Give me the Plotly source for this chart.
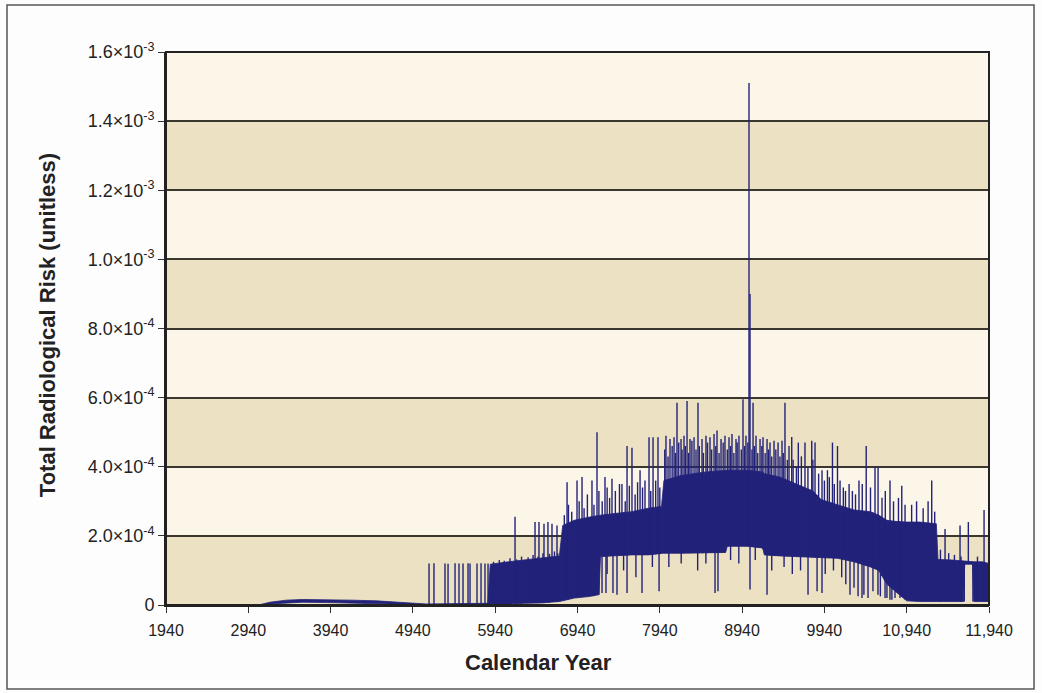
import numpy as np
import plotly.graph_objects as go

# ---- data (risk values in units of 1e-4) ----
SCALE = 1e-4

# dense band of the yearly risk trace: lower / upper envelope
env_year = [1940, 3080, 3200, 3400, 3600, 3900, 4200, 4500, 4800, 5000, 5100, 5850,
            5880, 6100, 6300, 6500, 6720, 6760, 6900, 7100, 7200, 7220, 7400, 7600,
            7800, 7960, 7990, 8200, 8500, 8740, 8760, 9000, 9190, 9210, 9400, 9600,
            9800, 9900, 10100, 10300, 10500, 10600, 10700, 10800, 10940, 11100, 11300,
            11320, 11500, 11630, 11645, 11740, 11755, 11860, 11940]
env_low = [0, 0, 0.03, 0.06, 0.08, 0.07, 0.06, 0.04, 0.02, 0.01, 0.01, 0.02,
           0.02, 0.03, 0.05, 0.06, 0.10, 0.12, 0.20, 0.25, 0.30, 1.40, 1.42, 1.45,
           1.45, 1.48, 1.50, 1.50, 1.50, 1.52, 1.70, 1.70, 1.65, 1.45, 1.42, 1.40,
           1.38, 1.37, 1.35, 1.25, 1.10, 1.00, 0.60, 0.40, 0.12, 0.10, 0.10,
           0.10, 0.10, 0.10, 1.18, 1.18, 0.10, 0.10, 0.10]
env_high = [0, 0.01, 0.08, 0.14, 0.16, 0.16, 0.14, 0.12, 0.08, 0.04, 0.03, 0.05,
            1.18, 1.25, 1.30, 1.35, 1.42, 2.30, 2.45, 2.55, 2.60, 2.60, 2.65, 2.70,
            2.80, 2.85, 3.60, 3.75, 3.85, 3.90, 3.90, 3.90, 3.85, 3.80, 3.70, 3.50,
            3.30, 3.05, 2.90, 2.75, 2.70, 2.60, 2.45, 2.42, 2.40, 2.40, 2.35,
            1.32, 1.30, 1.27, 1.27, 1.25, 1.25, 1.25, 1.20]

# tall isolated peaks rising above the band
peak_year = [5136, 5196, 5330, 5367, 5452, 5500, 5549, 5610, 5634, 5719, 5768, 5816, 5853,
             6181, 6424, 6472, 6533, 6581, 6630, 6691, 6813, 6934, 6995, 7116, 7177,
             7274, 7359, 7450, 7542, 7602, 7700, 7809, 7858, 7918,
             8015, 8064, 8113, 8149, 8198, 8234, 8271, 8307, 8356, 8404, 8453, 8501,
             8550, 8599, 8635, 8684, 8732, 8781, 8817, 8866, 8902, 8951, 8987, 9024,
             9036, 9073, 9109, 9158, 9194, 9243, 9279, 9328, 9377, 9425, 9461, 9510,
             9543, 9623, 9704, 9786, 9826, 9911, 9977, 10038, 10099, 10196, 10318,
             10448, 10555, 10592, 10737, 10880, 11244, 11406, 11588, 11689, 11880]
peak_value = [1.20, 1.21, 1.20, 1.19, 1.21, 1.20, 1.20, 1.21, 1.20, 1.20, 1.21, 1.20, 1.20,
              2.55, 2.40, 2.40, 2.35, 2.40, 2.35, 2.30, 3.55, 3.60, 3.70, 3.60, 5.00,
              3.70, 3.65, 3.50, 4.60, 4.55, 3.90, 4.85, 4.85, 4.85,
              4.90, 4.80, 4.85, 5.85, 4.80, 4.90, 5.90, 4.80, 4.85, 5.85, 4.80, 4.90,
              4.85, 4.95, 5.05, 4.80, 4.90, 4.85, 4.95, 4.80, 4.90, 5.95, 4.90, 15.10,
              9.00, 5.85, 4.90, 4.80, 4.85, 4.80, 4.70, 4.75, 4.70, 4.75, 5.85, 4.60,
              4.86, 4.70, 4.70, 4.75, 4.70, 3.90, 3.90, 4.70, 4.60, 3.30, 3.20,
              4.60, 4.00, 4.00, 3.60, 3.45, 3.60, 2.20, 2.30, 2.40, 2.75]

# shorter peaks that make up the ragged top of the band
short_peak_year = [5920, 5990, 6050, 6120, 6200, 6260, 6340, 6400, 6460, 6520, 6600, 6660, 6700,
                   6780, 6830, 6870, 6960, 7020, 7060, 7140, 7200, 7240, 7300, 7330, 7400,
                   7480, 7520, 7570, 7640, 7670, 7730, 7760, 7830, 7890, 7940,
                   8000, 8040, 8090, 8130, 8170, 8210, 8250, 8290, 8330, 8380, 8420, 8470,
                   8520, 8570, 8620, 8660, 8710, 8760, 8800, 8840, 8880, 8930, 8970, 9010,
                   9060, 9090, 9130, 9180, 9220, 9260, 9300, 9350, 9400, 9440, 9490,
                   9560, 9600, 9660, 9740, 9800, 9870, 9940, 10000, 10060, 10130, 10170,
                   10240, 10280, 10360, 10400, 10500, 10640, 10680, 10780, 10840, 10920,
                   11000, 11060, 11140, 11200, 11280, 11350, 11450, 11520, 11600, 11800]
short_peak_value = [1.25, 1.30, 1.28, 1.35, 1.32, 1.40, 1.38, 1.45, 1.40, 1.50, 1.48, 1.55, 1.50,
                    2.60, 2.90, 2.70, 3.00, 2.80, 3.20, 2.90, 3.30, 3.00, 3.40, 3.10, 3.30,
                    3.50, 3.00, 3.45, 3.20, 3.55, 3.40, 3.60, 3.30, 3.60, 3.40,
                    4.50, 4.30, 4.60, 4.40, 4.70, 4.50, 4.60, 4.40, 4.75, 4.50, 4.60, 4.40,
                    4.70, 4.50, 4.60, 4.40, 4.70, 4.50, 4.60, 4.40, 4.70, 4.50, 4.60, 4.70,
                    4.50, 4.60, 4.40, 4.60, 4.40, 4.50, 4.30, 4.50, 4.30, 4.40, 4.20,
                    4.20, 4.00, 4.30, 4.00, 4.20, 3.80, 3.60, 3.70, 3.50, 3.60, 3.40,
                    3.50, 3.30, 3.60, 3.50, 3.40, 3.10, 3.30, 3.00, 3.10, 2.90,
                    2.90, 3.00, 2.80, 3.00, 2.70, 1.60, 1.50, 1.45, 1.40, 1.40]

# drops falling below the band
dip_year = [7238, 7286, 7371, 7420, 7542, 7724, 7931, 8611, 8647, 9036, 9243, 9741,
            9851, 9911, 10251, 10349, 10397, 10470, 10591, 10677, 10737, 10798, 10859,
            10920, 11640, 11745,
            7300, 7500, 7650, 7850, 8050, 8200, 8400, 8500, 8800, 8900, 9100, 9300,
            9450, 9550, 9650, 9950, 10050, 10150, 10200, 10300, 10420, 10530, 10620,
            10700, 10760]
dip_value = [0.35, 0.35, 0.35, 0.30, 0.35, 0.35, 0.40, 0.35, 0.40, 0.45, 0.30, 0.30,
             0.40, 0.35, 0.30, 0.25, 0.20, 0.20, 0.30, 0.20, 0.15, 0.20, 0.20,
             0.20, 0.10, 0.10,
             0.90, 1.00, 0.80, 1.10, 1.10, 1.20, 1.00, 1.20, 1.30, 1.20, 1.30, 1.00,
             1.10, 0.90, 1.00, 0.90, 1.00, 0.80, 0.60, 0.50, 0.30, 0.40, 0.25,
             0.20, 0.15]

x_tick_vals = [1940, 2940, 3940, 4940, 5940, 6940, 7940, 8940, 9940, 10940, 11940]
x_tick_text = ["1940", "2940", "3940", "4940", "5940", "6940", "7940", "8940", "9940",
               "10,940", "11,940"]
y_tick_vals = [0, 2, 4, 6, 8, 10, 12, 14, 16]
y_tick_text = ["0", "2.0×10<sup>-4</sup>", "4.0×10<sup>-4</sup>", "6.0×10<sup>-4</sup>",
               "8.0×10<sup>-4</sup>", "1.0×10<sup>-3</sup>", "1.2×10<sup>-3</sup>",
               "1.4×10<sup>-3</sup>", "1.6×10<sup>-3</sup>"]

# ---- styling ----
NAVY = "#22227a"
TAN = "#ece2c3"
CREAM = "#fcf6e8"
GRID = "#3a382e"
FONT = "Liberation Sans, Arial, sans-serif"

low = np.array(env_low) * SCALE
high = np.array(env_high) * SCALE

# vertical segments: peaks start at the band floor, dips end at the band top
seg_x, seg_y = [], []
for yr, v in zip(peak_year + short_peak_year, peak_value + short_peak_value):
    base = np.interp(yr, env_year, env_low)
    seg_x += [yr, yr, None]
    seg_y += [base * SCALE, v * SCALE, None]
for yr, v in zip(dip_year, dip_value):
    top = np.interp(yr, env_year, env_high)
    seg_x += [yr, yr, None]
    seg_y += [v * SCALE, top * SCALE, None]

fig = go.Figure()
fig.add_trace(go.Scatter(x=env_year, y=low, mode="lines",
                         line=dict(color=NAVY, width=0.8), hoverinfo="skip"))
fig.add_trace(go.Scatter(x=env_year, y=high, mode="lines", fill="tonexty",
                         fillcolor=NAVY, line=dict(color=NAVY, width=0.8),
                         hoverinfo="skip"))
fig.add_trace(go.Scatter(x=seg_x, y=seg_y, mode="lines",
                         line=dict(color=NAVY, width=1.4), hoverinfo="skip"))

# alternating horizontal background bands
shapes = []
for i in range(len(y_tick_vals) - 1):
    shapes.append(dict(type="rect", xref="paper", yref="y", layer="below",
                       x0=0, x1=1, y0=y_tick_vals[i] * SCALE, y1=y_tick_vals[i + 1] * SCALE,
                       fillcolor=TAN if i % 2 == 0 else CREAM, line=dict(width=0)))
# plot frame
shapes.append(dict(type="rect", xref="paper", yref="paper", layer="above",
                   x0=0, x1=1, y0=0, y1=1, line=dict(color="#222", width=2)))
# outer figure frame
shapes.append(dict(type="rect", xref="paper", yref="paper", layer="above",
                   x0=-0.1932, x1=1.0547, y0=-0.1519, y1=1.085,
                   line=dict(color="#555", width=1.5)))

fig.update_layout(
    width=1042, height=693, autosize=False,
    margin=dict(l=166, r=53, t=52, b=88),
    paper_bgcolor="#fdfdfd", plot_bgcolor=CREAM,
    showlegend=False, shapes=shapes,
    font=dict(family=FONT, color="#222"),
    annotations=[
        dict(text="Total Radiological Risk (unitless)", textangle=-90,
             xref="paper", yref="paper", x=-0.1446, y=0.506,
             xanchor="center", yanchor="middle", showarrow=False,
             font=dict(size=22, family=FONT, color="#222", weight="bold")),
        dict(text="Calendar Year", xref="paper", yref="paper", x=0.4532, y=-0.1031,
             xanchor="center", yanchor="middle", showarrow=False,
             font=dict(size=22, family=FONT, color="#222", weight="bold")),
    ],
)
fig.update_xaxes(range=[1940, 11940], tickvals=x_tick_vals, ticktext=x_tick_text,
                 ticks="outside", ticklen=6, tickcolor="#333", tickwidth=1.2,
                 ticklabelstandoff=4,
                 showline=True, linecolor="#222", linewidth=2, showgrid=False,
                 zeroline=False, tickfont=dict(size=16, family=FONT, color="#222"))
fig.update_yaxes(range=[0, 16 * SCALE], tickvals=[v * SCALE for v in y_tick_vals],
                 ticktext=y_tick_text, ticks="outside", ticklen=6, tickcolor="#333",
                 tickwidth=1.2, showline=True, linecolor="#222", linewidth=2,
                 showgrid=True, gridcolor=GRID, gridwidth=1.5, zeroline=False,
                 tickfont=dict(size=18, family=FONT, color="#222"))

fig.write_html("out.html")
